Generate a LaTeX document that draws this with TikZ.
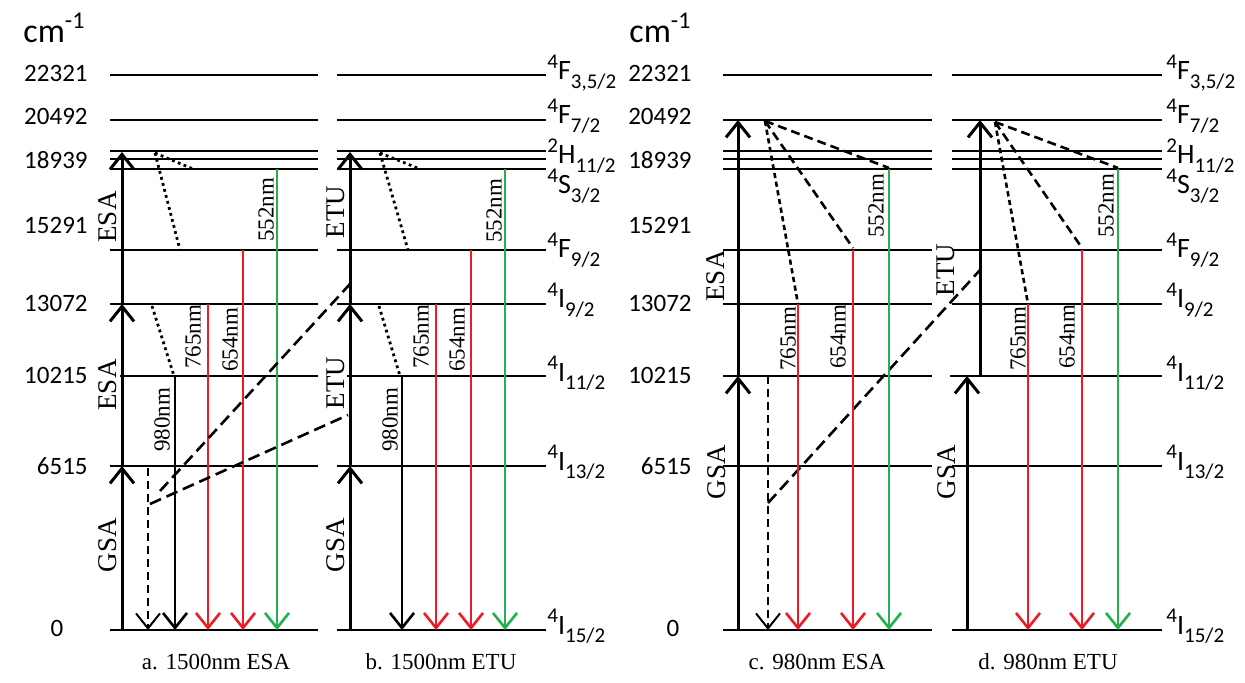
\documentclass[tikz,border=0pt]{standalone}
\usepackage{fontspec}
\setmainfont{Liberation Serif}
\newfontfamily\calfont{Carlito}
\usetikzlibrary{arrows.meta}
\definecolor{lred}{RGB}{237,28,36}
\definecolor{lgreen}{RGB}{34,177,76}
\newcommand\term[3]{\raisebox{0.42em}{\fontsize{10.5}{11}\selectfont #1}#2\raisebox{-0.3em}{\fontsize{10.5}{11}\selectfont #3}}
\begin{document}
\begin{tikzpicture}[x=0.5pt,y=-0.5pt,
  level/.style={line width=1pt},
  tipx/.style={-{Straight Barb[length=7.5pt,width=12pt]}},
  axisarr/.style={line width=1.5pt,tipx},
  redarr/.style={draw=lred,line width=1.3pt,tipx},
  greenarr/.style={draw=lgreen,line width=1.3pt,tipx},
  blackarr/.style={line width=1.3pt,tipx},
  dasharr/.style={line width=1pt,dash pattern=on 4pt off 2.5pt,tipx},
  dotl/.style={line width=1.4pt,dash pattern=on 1.4pt off 1.7pt},
  longdash/.style={line width=1.3pt,dash pattern=on 6pt off 3pt},
  fanA/.style={line width=1.3pt,dash pattern=on 2.6pt off 1.8pt},
  fanB/.style={line width=1.3pt,dash pattern=on 4.5pt off 2.5pt},
  num/.style={font=\calfont\fontsize{12.5}{14}\selectfont,anchor=east,inner sep=0pt},
  numc/.style={font=\calfont\fontsize{12.5}{14}\selectfont,inner sep=0pt},
  unit/.style={font=\calfont\fontsize{17}{19}\selectfont,anchor=west,inner sep=0pt},
  trm/.style={font=\calfont\fontsize{14}{16}\selectfont,anchor=base west,inner sep=0pt},
  proc/.style={font=\fontsize{13.5}{15}\selectfont,rotate=90,inner sep=0pt},
  wl/.style={font=\fontsize{11.5}{13}\selectfont,rotate=90,inner sep=0pt},
  captext/.style={font=\fontsize{11.5}{13}\selectfont,inner sep=0pt}]
\useasboundingbox (0,0) rectangle (1245,683);

% ---------- energy levels ----------
\foreach \xa/\xb in {110/318,337/546,723/932,952/1162}{
  \foreach \y in {75,120,151,159,169,250,304,466,630}
    \draw[level] (\xa,\y) -- (\xb,\y);
}
\draw[level] (120,376) -- (318,376);
\draw[level] (347,376) -- (546,376);
\draw[level] (723,376) -- (932,376);
\draw[level] (950,376) -- (1162,376);

% ---------- value columns ----------
\node[unit] (cmL) at (23,28) {cm\raisebox{0.42em}{\fontsize{12}{13}\selectfont -1}};
\node[num] (vL1) at (88,73) {22321};
\node[num] (vL2) at (88,116) {20492};
\node[num] (vL3) at (88,160) {18939};
\node[num] (vL4) at (88,225) {15291};
\node[num] (vL5) at (88,303) {13072};
\node[num] (vL6) at (88,375) {10215};
\node[num] (vL7) at (88,466) {6515};
\node[numc] (vL8) at (57,628) {0};

\node[unit] (cmM) at (629,28) {cm\raisebox{0.42em}{\fontsize{12}{13}\selectfont -1}};
\node[num] (vM1) at (692,73) {22321};
\node[num] (vM2) at (692,116) {20492};
\node[num] (vM3) at (692,160) {18939};
\node[num] (vM4) at (692,225) {15291};
\node[num] (vM5) at (692,303) {13072};
\node[num] (vM6) at (692,375) {10215};
\node[num] (vM7) at (692,466) {6515};
\node[numc] (vM8) at (673,628) {0};

% ---------- term labels ----------
\foreach \xx/\p in {547/B,1166/D}{
  \node[trm] (t1\p) at (\xx,80) {\term{4}{F}{3,5/2}};
  \node[trm] (t2\p) at (\xx,124) {\term{4}{F}{7/2}};
  \node[trm] (t3\p) at (\xx,164) {\term{2}{H}{11/2}};
  \node[trm] (t4\p) at (\xx,194) {\term{4}{S}{3/2}};
  \node[trm] (t5\p) at (\xx,258) {\term{4}{F}{9/2}};
  \node[trm] (t6\p) at (\xx,308) {\term{4}{I}{9/2}};
  \node[trm] (t7\p) at (\xx,381) {\term{4}{I}{11/2}};
  \node[trm] (t8\p) at (\xx,470) {\term{4}{I}{13/2}};
  \node[trm] (t9\p) at (\xx,634) {\term{4}{I}{15/2}};
}

% ================= panel a =================
\coordinate (a0) at (122,630); \coordinate (a1) at (122,466);
\coordinate (a2) at (122,304); \coordinate (a3) at (122,152);
\draw[axisarr] (a0) -- (a1);
\draw[axisarr] (a1) -- (a2);
\draw[axisarr] (a2) -- (a3);
\coordinate (aT) at (155,153);
\draw[dotl] (aT) -- (193,169);
\draw[dotl] (aT) -- (180,250);
\draw[dotl] (152,306) -- (174,376);
\coordinate (a980t) at (175,376); \coordinate (a980b) at (175,630);
\draw[blackarr] (a980t) -- (a980b);
\coordinate (adt) at (148,468); \coordinate (adb) at (148,630);
\draw[dasharr] (adt) -- (adb);
\draw[redarr] (208,304) -- (208,630);
\draw[redarr] (243,250) -- (243,630);
\draw[greenarr] (277,169) -- (277,630);
\draw[longdash] (160,491) -- (350,284);
\draw[longdash] (150,504) -- (348,415);
\node[proc] (aESA2) at (108,217) {ESA};
\node[proc] (aESA1) at (108,385) {ESA};
\node[proc] (aGSA) at (108,545) {GSA};
\node[wl] (a980) at (162,420) {980nm};
\node[wl] (a765) at (193,337) {765nm};
\node[wl] (a654) at (230,340) {654nm};
\node[wl] (a552) at (266,210) {552nm};
\node[captext] (capa) at (216,662) {a. 1500nm ESA};

% ================= panel b =================
\coordinate (b0) at (350,630); \coordinate (b1) at (350,466);
\coordinate (b2) at (350,304); \coordinate (b3) at (350,152);
\draw[axisarr] (b0) -- (b1);
\draw[axisarr] (b1) -- (b2);
\draw[axisarr] (b2) -- (b3);
\coordinate (bT) at (380,153);
\draw[dotl] (bT) -- (420,169);
\draw[dotl] (bT) -- (408,250);
\draw[dotl] (379,306) -- (400,376);
\draw[blackarr] (402,376) -- (402,630);
\draw[redarr] (436,304) -- (436,630);
\draw[redarr] (471,250) -- (471,630);
\draw[greenarr] (505,169) -- (505,630);
\node[proc] (bETU2) at (336,212) {ETU};
\node[proc] (bETU1) at (336,383) {ETU};
\node[proc] (bGSA) at (336,545) {GSA};
\node[wl] (b980) at (390,420) {980nm};
\node[wl] (b765) at (421,337) {765nm};
\node[wl] (b654) at (457,340) {654nm};
\node[wl] (b552) at (494,211) {552nm};
\node[captext] (capb) at (441,662) {b. 1500nm ETU};

% ================= panel c =================
\coordinate (c0) at (738,630); \coordinate (c1) at (738,376); \coordinate (c2) at (738,120);
\draw[axisarr] (c0) -- (c1);
\draw[axisarr] (c1) -- (c2);
\coordinate (cT) at (765,121);
\draw[fanA] (cT) -- (798,304);
\draw[fanB] (cT) -- (853,248);
\draw[fanB] (cT) -- (889,168);
\draw[dasharr] (768,376) -- (768,630);
\draw[longdash] (768,503) -- (980,270);
\draw[redarr] (798,304) -- (798,630);
\draw[redarr] (853,250) -- (853,630);
\draw[greenarr] (889,169) -- (889,630);
\node[proc] (cESA) at (716,276) {ESA};
\node[proc] (cGSA) at (717,472) {GSA};
\node[wl] (c765) at (788,339) {765nm};
\node[wl] (c654) at (838,337) {654nm};
\node[wl] (c552) at (876,206) {552nm};
\node[captext] (capc) at (817,662) {c. 980nm ESA};

% ================= panel d =================
\draw[axisarr] (967,630) -- (967,376);
\draw[axisarr] (980,376) -- (980,120);
\coordinate (dT) at (995,122);
\draw[fanA] (dT) -- (1028,304);
\draw[fanB] (dT) -- (1082,248);
\draw[fanB] (dT) -- (1118,168);
\draw[redarr] (1028,304) -- (1028,630);
\draw[redarr] (1082,250) -- (1082,630);
\draw[greenarr] (1118,169) -- (1118,630);
\node[proc] (dETU) at (946,270) {ETU};
\node[proc] (dGSA) at (947,472) {GSA};
\node[wl] (d765) at (1018,339) {765nm};
\node[wl] (d654) at (1067,337) {654nm};
\node[wl] (d552) at (1106,206) {552nm};
\node[captext] (capd) at (1048,662) {d. 980nm ETU};
\end{tikzpicture}
\end{document}
